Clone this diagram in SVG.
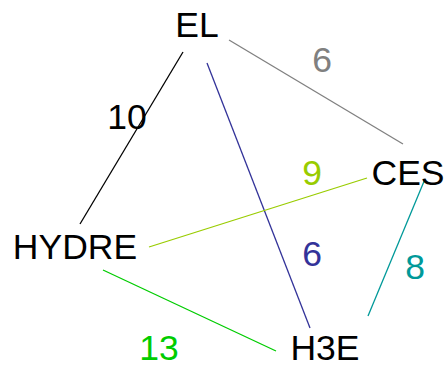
<svg xmlns="http://www.w3.org/2000/svg" width="446" height="365" viewBox="0 0 446 365">
<style>
text{font-family:"Liberation Sans",Arial,sans-serif;font-size:35.5px;text-anchor:middle}
.e{fill:none;stroke-width:1.3}
</style>
<rect width="446" height="365" fill="#fff"/>
<g id="connectors">
<line class="e" x1="183" y1="52" x2="80" y2="224" stroke="#000"/>
<line class="e" x1="207" y1="63" x2="310" y2="328" stroke="#333399"/>
<line class="e" x1="229" y1="40" x2="403" y2="144" stroke="#808080"/>
<line class="e" x1="149" y1="247" x2="367" y2="178" stroke="#99cc00"/>
<line class="e" x1="103" y1="270" x2="276" y2="351" stroke="#00cc00"/>
<line class="e" x1="425" y1="179" x2="368" y2="316" stroke="#009999"/>
<text x="127" y="129" fill="#000">10</text>
<text x="322" y="72" fill="#808080">6</text>
<text x="312" y="185" fill="#99cc00">9</text>
<text x="312" y="266" fill="#333399">6</text>
<text x="415" y="279" fill="#009999">8</text>
<text x="159" y="360" fill="#00cc00">13</text>
</g>
<g id="EL"><text x="197" y="37">EL</text></g>
<g id="CES"><text x="408" y="185">CES</text></g>
<g id="HYDRE"><text x="75" y="259">HYDRE</text></g>
<g id="H3E"><text x="325" y="360">H3E</text></g>
</svg>
